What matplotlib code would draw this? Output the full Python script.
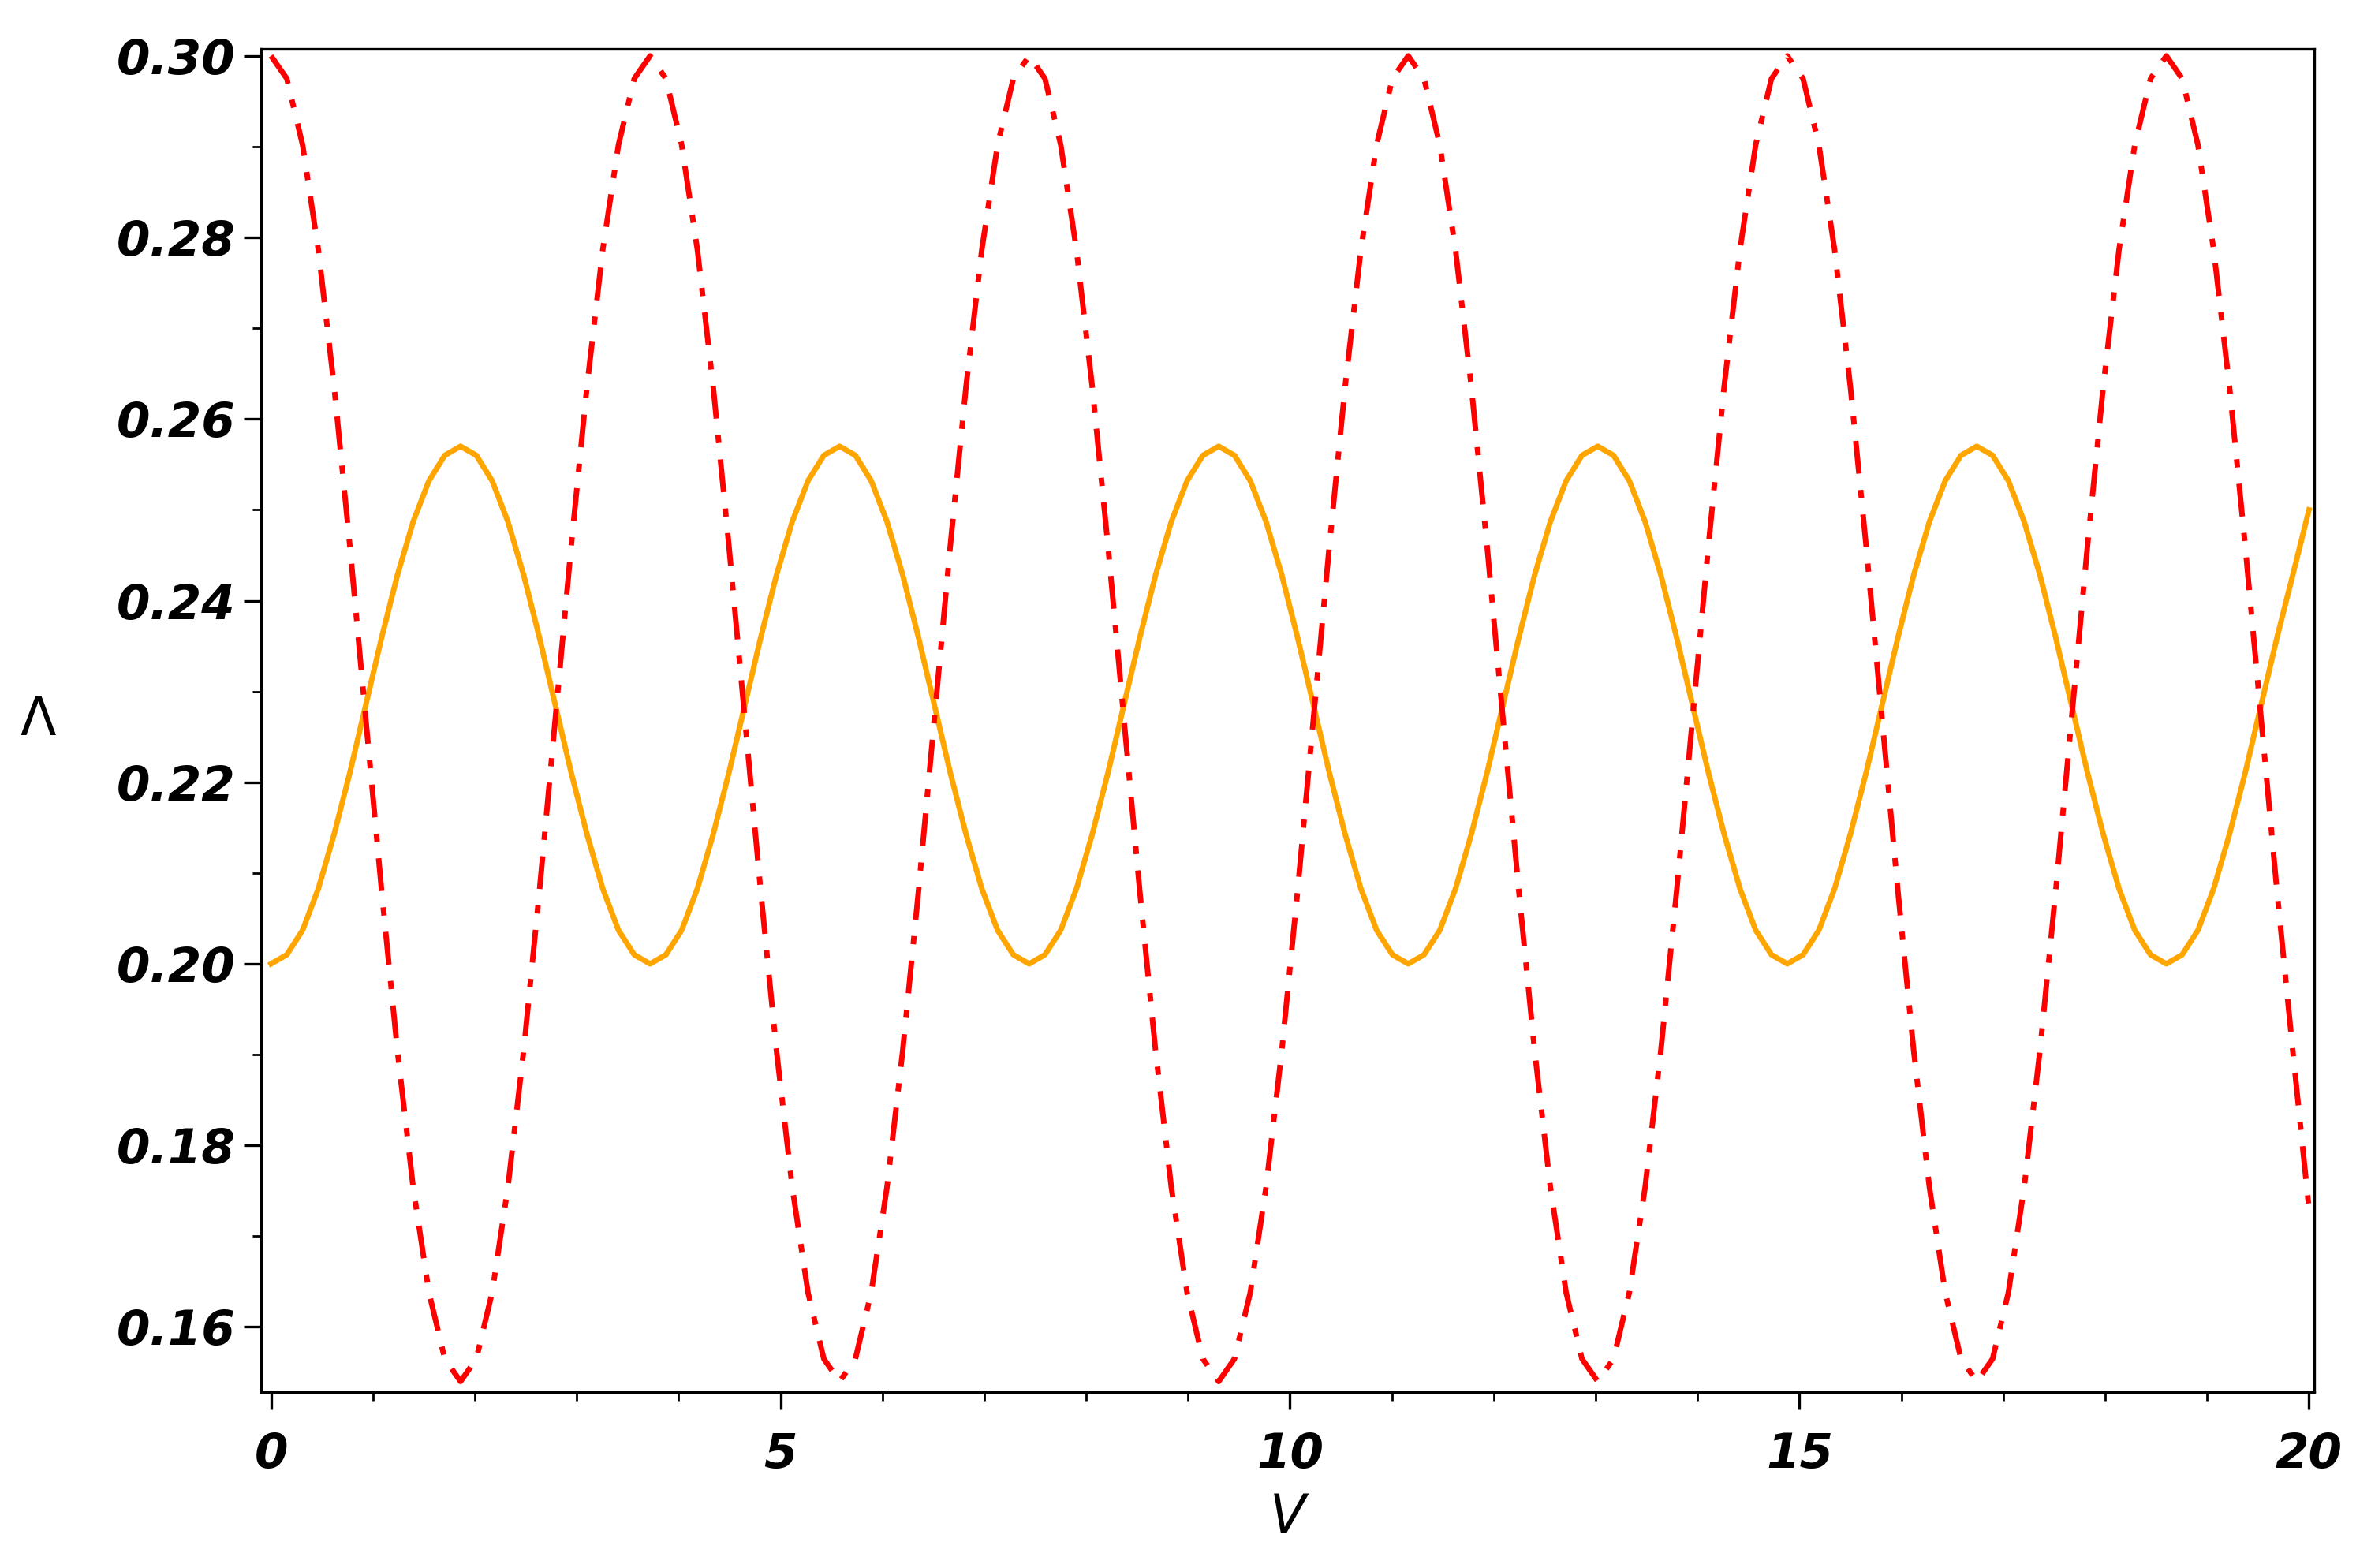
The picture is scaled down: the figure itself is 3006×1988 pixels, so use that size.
import matplotlib
matplotlib.use("Agg")
import matplotlib.pyplot as plt
from matplotlib.ticker import MultipleLocator

orange_period = [0.2000,0.2010,0.2037,0.2083,0.2143,0.2211,0.2285,0.2359,0.2428,0.2487,0.2532,0.2560,
                 0.2570,0.2560,0.2532,0.2487,0.2428,0.2359,0.2285,0.2211,0.2143,0.2083,0.2037,0.2010]
red_period = [0.3000,0.2975,0.2902,0.2786,0.2635,0.2459,0.2270,0.2081,0.1905,0.1754,0.1638,0.1565,
              0.1540,0.1565,0.1638,0.1754,0.1905,0.2081,0.2270,0.2459,0.2635,0.2786,0.2902,0.2975]
orange_vals = orange_period * 5 + [0.2000,0.2010,0.2037,0.2083,0.2143,0.2211,0.2285,0.2359,0.2428,0.2470]
red_vals = red_period * 5 + [0.3000,0.2975,0.2902,0.2786,0.2635,0.2459,0.2270,0.2081,0.1905,0.1800]
V = [round(i * 0.155, 3) for i in range(129)] + [20.0]
orange_vals = orange_vals[:129] + [0.2500]
red_vals = red_vals[:129] + [0.1730]

xticks = [0, 5, 10, 15, 20]
yticks = [0.16, 0.18, 0.20, 0.22, 0.24, 0.26, 0.28, 0.30]

fig = plt.figure(figsize=(15.03, 9.94), dpi=200)
ax = fig.add_axes([0.110, 0.112, 0.866, 0.857])
ax.plot(V, orange_vals, color="#FFA500", lw=2.5, solid_joinstyle="round")
ax.plot(V, red_vals, color="#FF0000", lw=2.5, linestyle=(0, (6, 3, 1.5, 3)))
ax.set_xlim(-0.1, 20.05)
ax.set_ylim(0.1528, 0.3008)
ax.set_xticks(xticks)
ax.set_yticks(yticks)
ax.set_yticklabels([f"{t:.2f}" for t in yticks])
ax.xaxis.set_minor_locator(MultipleLocator(1))
ax.yaxis.set_minor_locator(MultipleLocator(0.01))
ax.tick_params(which="major", length=8, width=1.2, labelsize=22)
ax.tick_params(which="minor", length=4, width=1)
ax.tick_params(axis="x", pad=10)
for lab in ax.get_xticklabels() + ax.get_yticklabels():
    lab.set_fontweight("bold"); lab.set_fontstyle("italic")
ax.set_xlabel("V", fontsize=24, fontstyle="italic", labelpad=6)
ax.set_ylabel("Λ", fontsize=24, rotation=0, labelpad=36, va="center")
for s in ax.spines.values():
    s.set_linewidth(1.2)
fig.savefig("out.png", dpi=200)
